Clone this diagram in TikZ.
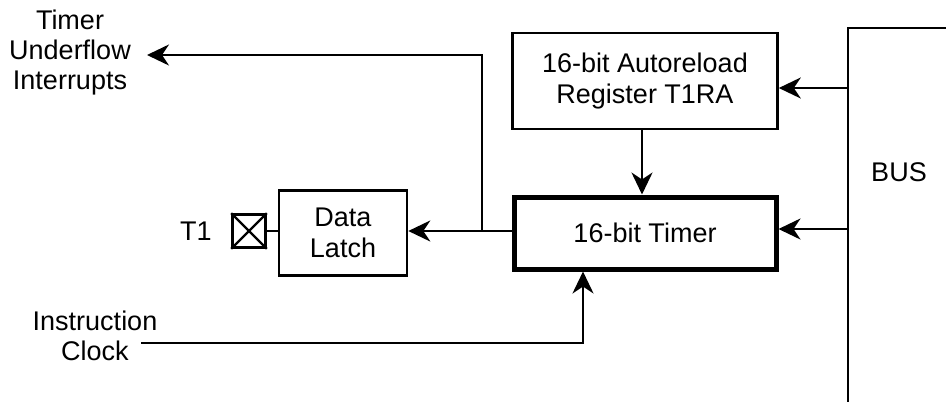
\documentclass[tikz,border=0pt]{standalone}
\usepackage{fontspec}
\setmainfont{Liberation Sans}
\usetikzlibrary{arrows.meta}
\begin{document}
\begin{tikzpicture}[x=1pt,y=-1pt,
  box/.style={draw,line width=2.6pt,inner sep=0pt,align=center,font=\fontsize{27}{31}\selectfont},
  lbl/.style={inner sep=0pt,align=center,font=\fontsize{27}{30}\selectfont},
  conn/.style={line width=2.6pt,-{Stealth[length=22pt,width=21pt,inset=7pt]}},
  wire/.style={line width=2.6pt}]
\useasboundingbox (0,0) rectangle (946,402);
% nodes
\node[box,minimum width=265pt,minimum height=96pt] (auto) at (645,81) {16-bit Autoreload\\Register T1RA};
\node[box,line width=5pt,minimum width=262pt,minimum height=72pt] (timer) at (645,233) {16-bit Timer};
\node[box,minimum width=128pt,minimum height=85pt] (latch) at (343,233) {Data\\Latch};
\node[draw,line width=2.6pt,minimum size=33pt,inner sep=0pt] (pin) at (249,231) {};
\draw[line width=2.2pt] (pin.north west) -- (pin.south east) (pin.north east) -- (pin.south west);
\node[lbl] (t1) at (196,231) {T1};
\node[lbl] (tui) at (70,53) {Timer\\Underflow\\Interrupts};
\node[lbl] (ic) at (95,336) {Instruction\\Clock};
\node[lbl] (bus) at (899,172) {BUS};
% bus outline
\coordinate (bustop) at (946,28);
\coordinate (buscorner) at (848,28);
\coordinate (busbot) at (848,402);
\draw[wire] (bustop) -- (buscorner) -- (busbot);
\coordinate (busA) at (848,88);
\coordinate (busT) at (848,229);
% connectors
\draw[conn] (busA) -- (auto.east |- busA);
\draw[conn] (busT) -- (timer.east |- busT);
\draw[conn] (auto.south -| 642,0) -- (timer.north -| 642,0);
\coordinate (junc) at (482,231);
\coordinate (utop) at (482,55);
\coordinate (uend) at (147,55);
\draw[conn] (timer.west |- junc) -- (latch.east |- junc);
\draw[conn] (junc) -- (utop) -- (uend);
\draw[wire] (pin.east) -- (latch.west |- pin.east);
\coordinate (cstart) at (141,343);
\coordinate (ccorner) at (583,343);
\draw[conn] (cstart) -- (ccorner) -- (timer.south -| ccorner);
\end{tikzpicture}
\end{document}
